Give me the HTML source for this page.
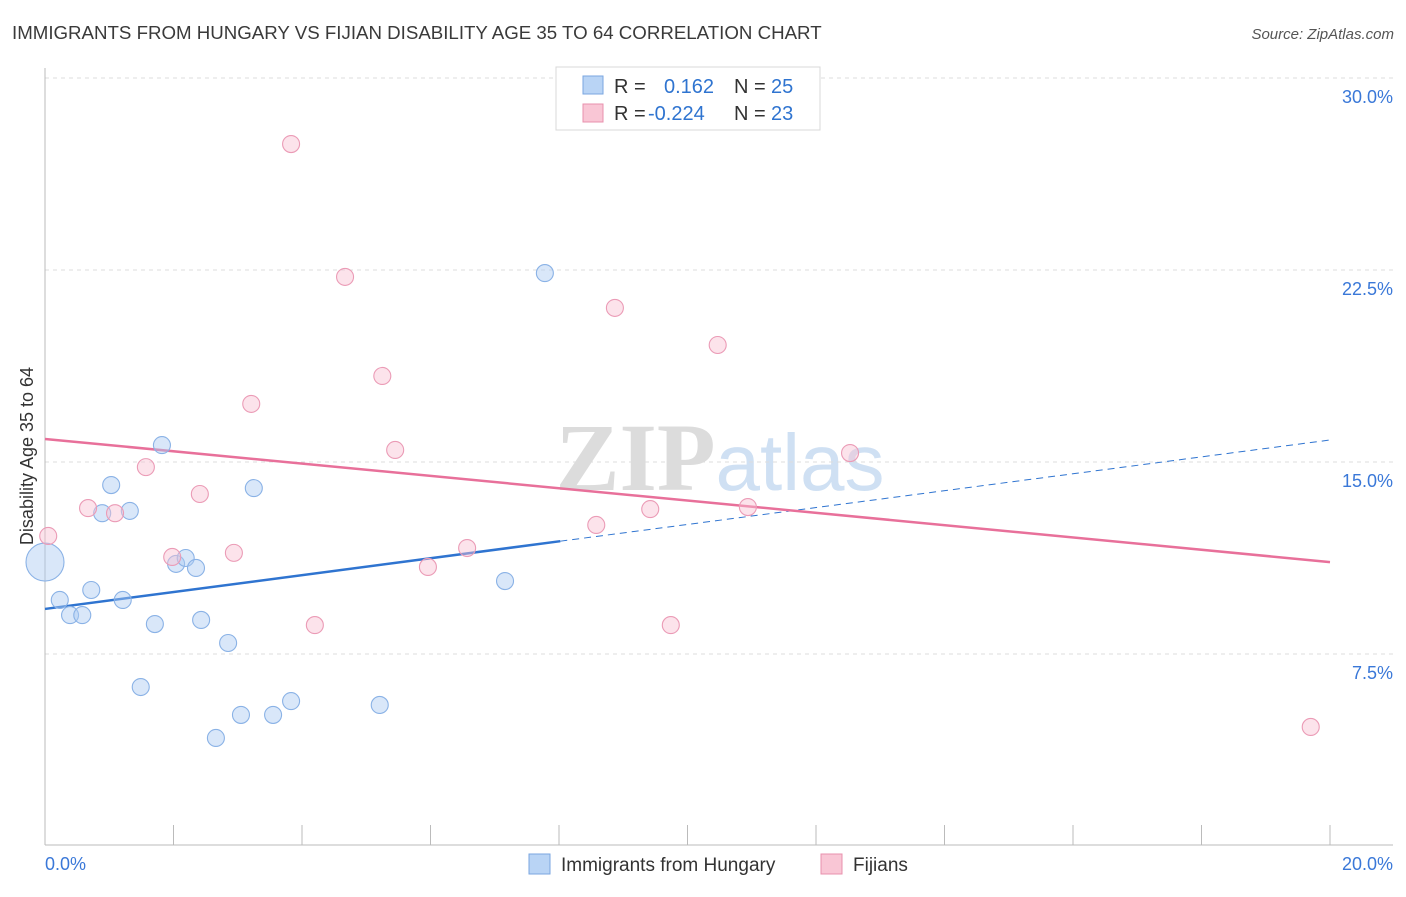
<!DOCTYPE html>
<html><head><meta charset="utf-8"><style>
body{margin:0;background:#fff;font-family:"Liberation Sans",sans-serif;}
svg text{font-family:"Liberation Sans",sans-serif;}
</style></head><body>
<svg id="chart" width="1406" height="892" viewBox="0 0 1406 892" xmlns="http://www.w3.org/2000/svg">
<text x="12" y="39" font-size="18.7" fill="#3a3a3a">IMMIGRANTS FROM HUNGARY VS FIJIAN DISABILITY AGE 35 TO 64 CORRELATION CHART</text>
<text x="1394" y="39" font-size="15" fill="#555" text-anchor="end" font-style="italic">Source: ZipAtlas.com</text>
<text x="720" y="490" font-size="96" text-anchor="middle" fill="#e4e4e4"><tspan font-family="Liberation Serif" font-weight="bold" fill="#dcdcdc">ZIP</tspan><tspan fill="#cfe0f3" font-size="80">atlas</tspan></text>
<text transform="translate(33,456) rotate(-90)" font-size="18" fill="#333" text-anchor="middle">Disability Age 35 to 64</text>
<g id="grid"></g><g id="axes"></g><g id="lines"></g><g id="pts"></g>
<g>
<rect x="556" y="67" width="264" height="63" fill="#fff" stroke="#d8d8d8"/>
<rect x="583" y="76" width="20" height="18" fill="#b9d4f5" stroke="#7aa6e0"/>
<text x="614" y="93" font-size="20" fill="#333">R = </text><text x="664" y="93" font-size="20" fill="#2f74d0">0.162</text>
<text x="734" y="93" font-size="20" fill="#333">N = </text><text x="771" y="93" font-size="20" fill="#2f74d0">25</text>
<rect x="583" y="104" width="20" height="18" fill="#f9c6d5" stroke="#e890ad"/>
<text x="614" y="120" font-size="20" fill="#333">R = </text><text x="648" y="120" font-size="20" fill="#2f74d0">-0.224</text>
<text x="734" y="120" font-size="20" fill="#333">N = </text><text x="771" y="120" font-size="20" fill="#2f74d0">23</text>
</g>
<g>
<rect x="529" y="854" width="21" height="20" fill="#b9d4f5" stroke="#7aa6e0"/>
<text x="561" y="871" font-size="19" fill="#333">Immigrants from Hungary</text>
<rect x="821" y="854" width="21" height="20" fill="#f9c6d5" stroke="#e890ad"/>
<text x="853" y="871" font-size="19" fill="#333">Fijians</text>
</g>
<text x="45" y="870" font-size="18" fill="#3a78d8">0.0%</text>
<text x="1393" y="870" font-size="18" fill="#3a78d8" text-anchor="end">20.0%</text>
</svg>
<script>
const blueX=[0,0.23,0.39,0.58,0.72,0.89,1.03,1.21,1.32,1.49,1.71,1.82,2.04,2.19,2.35,2.43,2.66,2.85,3.05,3.25,3.55,3.83,5.21,7.16,7.78];
const blueY=[11.09,9.61,9.02,9.02,10.0,13.0,14.1,9.61,13.09,6.21,8.67,15.66,11.02,11.25,10.86,8.83,4.22,7.93,5.12,13.98,5.12,5.66,5.51,10.35,22.38];
const pinkX=[0.05,0.67,1.09,1.57,1.98,2.41,2.94,3.21,3.83,4.2,4.67,5.25,5.45,5.96,6.57,8.58,8.87,9.42,9.74,10.47,10.94,12.53,19.7];
const pinkY=[12.11,13.2,13.0,14.8,11.29,13.75,11.45,17.27,27.42,8.63,22.23,18.36,15.47,10.9,11.64,12.54,21.02,13.16,8.63,19.57,13.24,15.35,4.65];
const yTicks=[7.5,15,22.5,30];
const yTickLabels=["7.5%","15.0%","22.5%","30.0%"];
const xTicks=[0,2,4,6,8,10,12,14,16,18,20];
const blueTrend=[9.26,15.86];
const pinkTrend=[15.9,11.09];
const blueSolidEnd=8.02;
const NS="http://www.w3.org/2000/svg";
const X=v=>45+v*64.25, Y=v=>846-v*25.6;
function mk(parent,tag,attrs){const e=document.createElementNS(NS,tag);for(const k in attrs)e.setAttribute(k,attrs[k]);document.getElementById(parent).appendChild(e);return e;}
yTicks.forEach((t,i)=>{
 const g=mk('grid','line',{x1:45,x2:1393,y1:Y(t),y2:Y(t),stroke:'#dcdcdc','stroke-dasharray':'4,4'});
 
 
 const l=mk('grid','text',{x:1393,y:Y(t)+25,'font-size':18,fill:'#3a78d8','text-anchor':'end'});
 l.textContent=yTickLabels[i];
 
 
});
const ax=mk('axes','line',{x1:45,x2:1393,y1:845,y2:845,stroke:'#bbb'});


const ay=mk('axes','line',{x1:45,x2:45,y1:68,y2:845,stroke:'#bbb'});


xTicks.forEach(t=>{
 const k=mk('axes','line',{x1:X(t),x2:X(t),y1:825,y2:845,stroke:'#bbb'});
 
 
});
const trendY=(tr,x)=>tr[0]+(tr[1]-tr[0])*x/20;
const b1=mk('lines','line',{x1:X(0),y1:Y(blueTrend[0]),x2:X(blueSolidEnd),y2:Y(trendY(blueTrend,blueSolidEnd)),stroke:'#2f74d0','stroke-width':2.5});


const b2=mk('lines','line',{x1:X(blueSolidEnd),y1:Y(trendY(blueTrend,blueSolidEnd)),x2:X(20),y2:Y(blueTrend[1]),stroke:'#2f74d0','stroke-width':1,'stroke-dasharray':'7,5'});


const p1=mk('lines','line',{x1:X(0),y1:Y(pinkTrend[0]),x2:X(20),y2:Y(pinkTrend[1]),stroke:'#e8709a','stroke-width':2.5});


blueX.forEach((x,i)=>{
 const c=mk('pts','circle',{cx:X(x),cy:Y(blueY[i]),r:i===0?19:8.5,fill:'rgba(170,202,242,0.45)',stroke:'#8ab2e6','stroke-width':1.1});
 
 
});
pinkX.forEach((x,i)=>{
 const c=mk('pts','circle',{cx:X(x),cy:Y(pinkY[i]),r:8.5,fill:'rgba(248,192,210,0.45)',stroke:'#eb9bb6','stroke-width':1.1});
 
 
});
</script>
</body></html>
